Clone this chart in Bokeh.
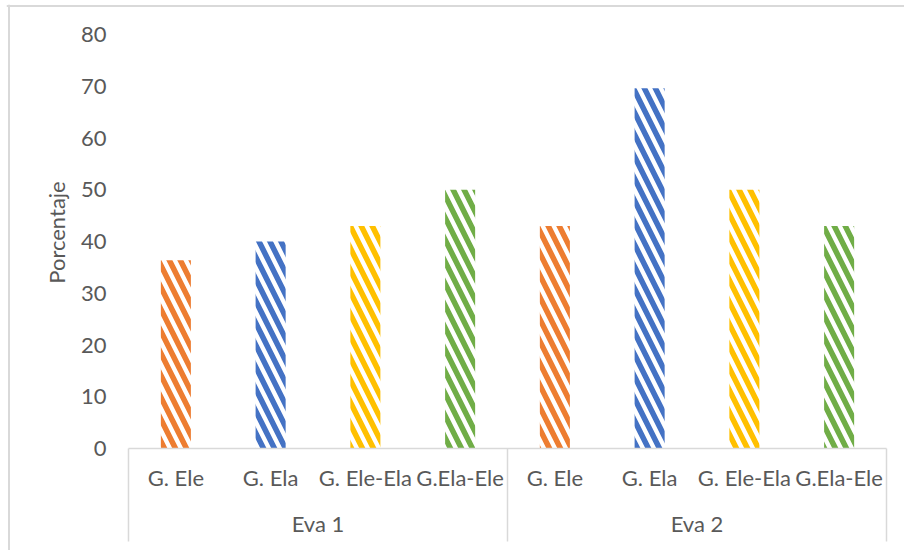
from bokeh.plotting import figure
from bokeh.models import Range1d, LinearAxis, FixedTicker, Span
from bokeh.embed import file_html
from bokeh.resources import INLINE

# ---- data ----
groups = ["Eva 1", "Eva 2"]
categories = ["G. Ele", "G. Ela", "G. Ele-Ela", "G.Ela-Ele"]
eva1_values = [36.4, 40.0, 43.0, 50.0]
eva2_values = [43.0, 69.6, 50.0, 43.0]
bar_colors = ["#ED7D31", "#4472C4", "#FFC000", "#70AD47"]
y_ticks = [0, 10, 20, 30, 40, 50, 60, 70, 80]
y_title = "Porcentaje"

FONT = "Lato"
FONT_SIZE = "22px"
TEXT_COLOR = "#595959"
GRID_GRAY = "#d9d9d9"

# one slot per (group, category); bars sit in the middle of their slot
n_cat = len(categories)
series = [eva1_values, eva2_values]
xs, tops, fills = [], [], []
for g, vals in enumerate(series):
    for c, v in enumerate(vals):
        xs.append(g * n_cat + c + 0.5)
        tops.append(v)
        fills.append(bar_colors[c])
n_slots = n_cat * len(groups)

Y_BOTTOM = -19.71
p = figure(
    width=904, height=550, title=None,
    output_backend="svg", toolbar_location=None,
    x_range=Range1d(-1.2876, n_slots + 0.19),
    y_range=Range1d(Y_BOTTOM, 85.80),
    x_axis_type=None, y_axis_type=None,
    min_border_left=6, min_border_top=4, min_border_right=0, min_border_bottom=0,
)
p.outline_line_color = None
p.background_fill_color = "white"
p.border_fill_color = "white"

# hatched bars
p.vbar(x=xs, top=tops, bottom=0, width=0.317,
       fill_color=None, line_color=None,
       hatch_pattern="\\", hatch_color=fills, hatch_scale=22, hatch_weight=5.5)

# value axis (no line, labels only); bounds keep the title centred on the value area
yaxis = LinearAxis(
    ticker=FixedTicker(ticks=y_ticks), fixed_location=0, bounds=(y_ticks[0], 83.5),
    axis_line_color=None, major_tick_line_color=None, minor_tick_line_color=None,
    major_tick_out=0, major_tick_in=0,
    major_label_standoff=22,
    major_label_text_font=FONT, major_label_text_font_size=FONT_SIZE,
    major_label_text_color=TEXT_COLOR,
    axis_label=y_title, axis_label_text_font=FONT, axis_label_text_font_size=FONT_SIZE,
    axis_label_text_font_style="normal", axis_label_text_color=TEXT_COLOR,
    axis_label_standoff=8,
)
p.add_layout(yaxis, "left")

# inner category labels
centers = [g * n_cat + c + 0.5 for g in range(len(groups)) for c in range(n_cat)]
cat_labels = {x: categories[i % n_cat] for i, x in enumerate(centers)}
xaxis = LinearAxis(
    ticker=FixedTicker(ticks=centers), fixed_location=0, bounds=(0, n_slots),
    major_label_overrides=cat_labels,
    axis_line_color=GRID_GRAY, axis_line_width=1.5,
    major_tick_line_color=None, minor_tick_line_color=None,
    major_tick_out=0, major_tick_in=0,
    major_label_standoff=15,
    major_label_text_font=FONT, major_label_text_font_size=FONT_SIZE,
    major_label_text_color=TEXT_COLOR,
)
p.add_layout(xaxis, "below")

# outer group labels
group_centers = [g * n_cat + n_cat / 2 for g in range(len(groups))]
gaxis = LinearAxis(
    ticker=FixedTicker(ticks=group_centers), fixed_location=0, bounds=(0, n_slots),
    major_label_overrides={x: groups[i] for i, x in enumerate(group_centers)},
    axis_line_color=None, major_tick_line_color=None, minor_tick_line_color=None,
    major_tick_out=0, major_tick_in=0,
    major_label_standoff=61,
    major_label_text_font=FONT, major_label_text_font_size=FONT_SIZE,
    major_label_text_color=TEXT_COLOR,
)
p.add_layout(gaxis, "below")

# separators at the group boundaries, running down through the label rows
group_edges = [g * n_cat for g in range(len(groups) + 1)]
p.segment(x0=group_edges, y0=[0] * len(group_edges),
          x1=group_edges, y1=[Y_BOTTOM + 1.74] * len(group_edges),
          line_color=GRID_GRAY, line_width=1.5)

# chart border (left and top edges)
p.add_layout(Span(location=-1.2612, dimension="height", line_color=GRID_GRAY, line_width=2))
p.add_layout(Span(location=85.507, dimension="width", line_color=GRID_GRAY, line_width=2))

open("out.html", "w").write(file_html(p, INLINE))
